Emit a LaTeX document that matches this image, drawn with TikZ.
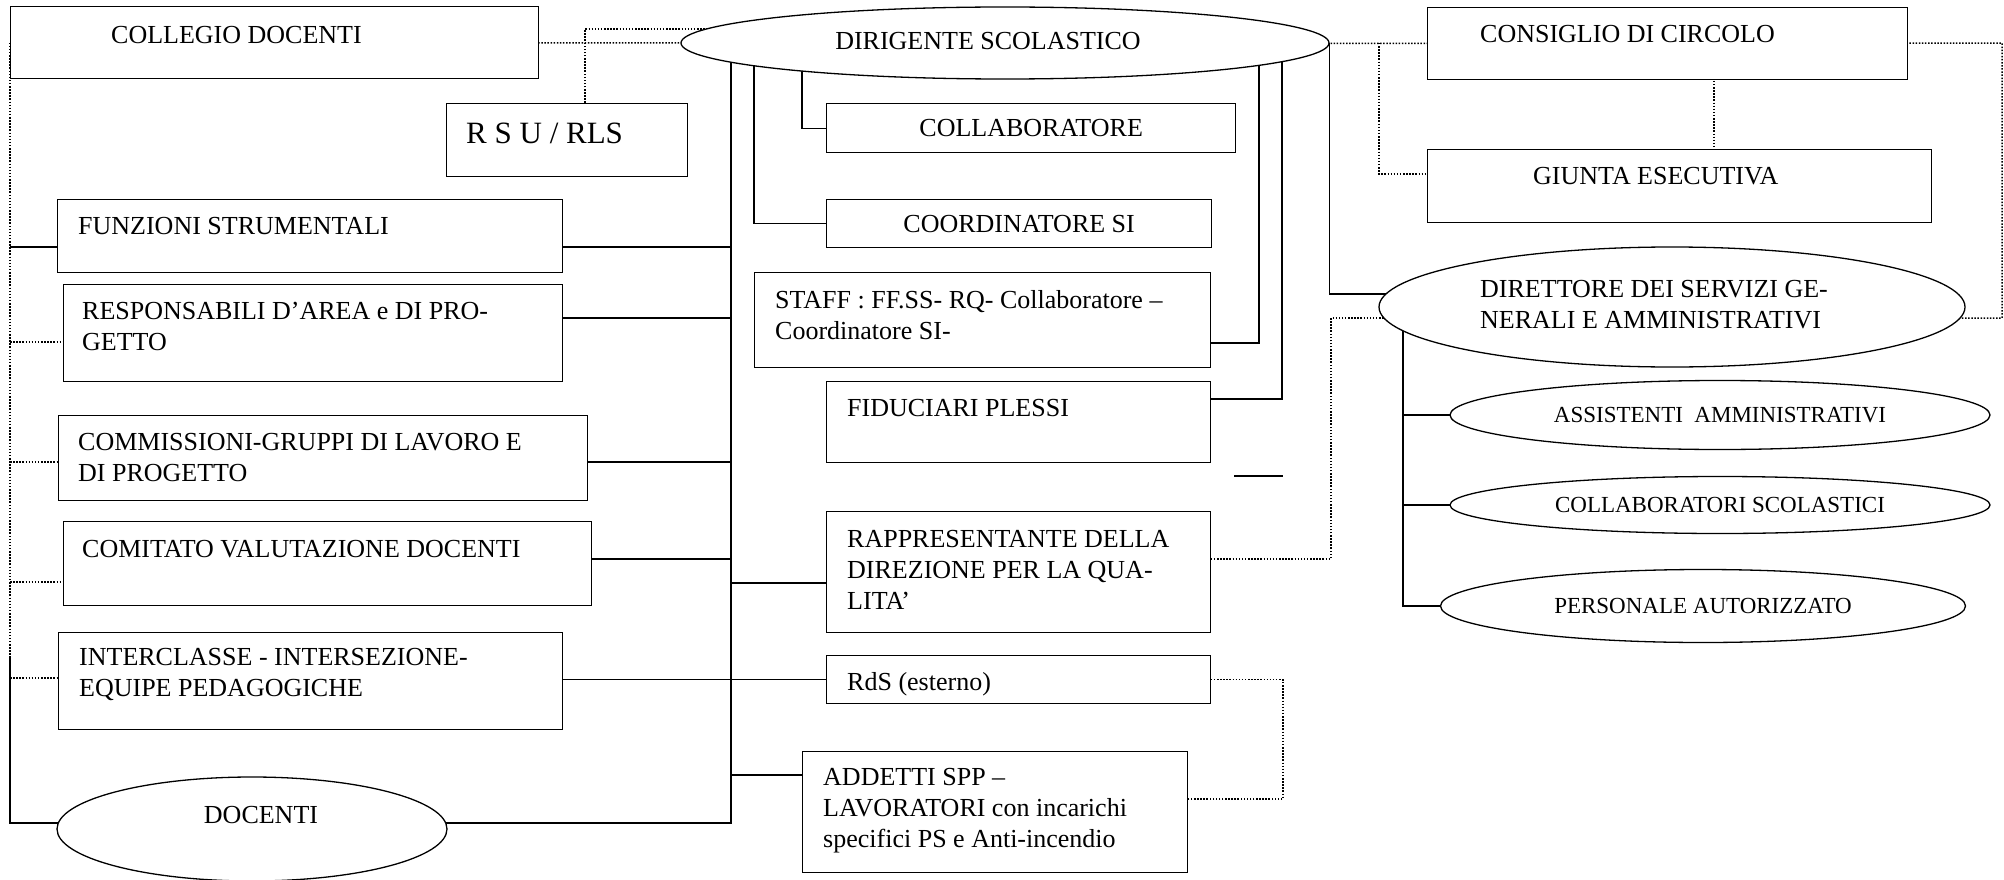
\documentclass[tikz,border=0pt]{standalone}
\usepackage{fontspec}
\setmainfont{Liberation Serif}
\usetikzlibrary{shapes.geometric,positioning,backgrounds}
\newcommand{\orgfont}{\fontsize{26}{31}\selectfont}

\begin{document}
\begin{tikzpicture}[
        x=1pt, y=-1pt,
        box/.style={rectangle, draw, line width=1.3pt, fill=white, anchor=north west, inner sep=0pt},
        midbox/.style={box, font=\orgfont},
        oval/.style={ellipse, draw, line width=1.3pt, fill=white, inner sep=0pt},
        smalloval/.style={oval, font=\fontsize{23}{27}\selectfont},
        txt/.style={font=\orgfont, align=left, inner sep=0pt, anchor=north west},
        link/.style={line width=1.2pt},
        dots/.style={line width=1.5pt, dash pattern=on 1.5pt off 1.6pt}
    ]

        \useasboundingbox (0,0) rectangle (2004,880);

        % Left column
        \node[box, minimum width=528pt, minimum height=72pt] (coll) at (10,6) {};
        \node[box, minimum width=241pt, minimum height=73pt] (rsu) at (446,103) {};
        \node[box, minimum width=505pt, minimum height=73pt] (funz) at (57,199) {};
        \node[box, minimum width=499pt, minimum height=97pt] (resp) at (63,284) {};
        \node[box, minimum width=529pt, minimum height=85pt] (comm) at (58,415) {};
        \node[box, minimum width=528pt, minimum height=84pt] (comi) at (63,521) {};
        \node[box, minimum width=504pt, minimum height=97pt] (inter) at (58,632) {};
        \node[oval, minimum width=390pt, minimum height=104pt] (docenti) at (252,829) {};

        % Dirigente and central column
        \node[oval, minimum width=648pt, minimum height=72pt] (dirig) at (1005,43) {};
        \node[midbox, minimum width=409pt, minimum height=49pt] (collab) at (826,103) {COLLABORATORE};
        \node[midbox, minimum width=385pt, minimum height=48pt] (coord) at (826,199) {COORDINATORE SI};
        \node[box, minimum width=456pt, minimum height=95pt] (staff) at (754,272) {};
        \node[box, minimum width=384pt, minimum height=81pt] (fidu) at (826,381) {};
        \node[box, minimum width=384pt, minimum height=121pt] (rapp) at (826,511) {};
        \node[box, minimum width=384pt, minimum height=48pt] (rds) at (826,655) {};
        \node[box, minimum width=385pt, minimum height=121pt] (addetti) at (802,751) {};

        % Right side
        \node[box, minimum width=480pt, minimum height=72pt] (consi) at (1427,7) {};
        \node[box, minimum width=504pt, minimum height=73pt] (giunta) at (1427,149) {};
        \node[oval, minimum width=586pt, minimum height=120pt] (dir) at (1672,307) {};
        \node[smalloval, minimum width=540pt, minimum height=69pt] (assist) at (1720,415) {ASSISTENTI\ \ AMMINISTRATIVI};
        \node[smalloval, minimum width=540pt, minimum height=57pt] (collsc) at (1720,505) {COLLABORATORI SCOLASTICI};
        \node[smalloval, minimum width=525pt, minimum height=73pt] (pers) at (1703,606) {PERSONALE AUTORIZZATO};

        % Labels
        \node[txt, below right=20pt and 101pt of coll.north west] (collT) {COLLEGIO DOCENTI};
        \node[txt, font=\fontsize{31}{37}\selectfont, below right=20pt and 20pt of rsu.north west] (rsuT) {R S U / RLS};
        \node[txt, below right=18pt and 21pt of funz.north west] (funzT) {FUNZIONI STRUMENTALI};
        \node[txt, below right=18pt and 19pt of resp.north west] (respT) {RESPONSABILI D’AREA e DI PRO-\\GETTO};
        \node[txt, below right=18pt and 20pt of comm.north west] (commT) {COMMISSIONI-GRUPPI DI LAVORO E\\DI PROGETTO};
        \node[txt, below right=19pt and 19pt of comi.north west] (comiT) {COMITATO VALUTAZIONE DOCENTI};
        \node[txt, below right=16pt and 21pt of inter.north west] (interT) {INTERCLASSE - INTERSEZIONE-\\EQUIPE PEDAGOGICHE};
        \node[txt, below right=18pt and 21pt of staff.north west] (staffT) {STAFF : FF.SS- RQ- Collaboratore –\\Coordinatore SI-};
        \node[txt, below right=18pt and 21pt of fidu.north west] (fiduT) {FIDUCIARI PLESSI};
        \node[txt, below right=19pt and 21pt of rapp.north west] (rappT) {RAPPRESENTANTE DELLA\\DIREZIONE PER LA QUA-\\LITA’};
        \node[txt, below right=17pt and 21pt of rds.north west] (rdsT) {RdS (esterno)};
        \node[txt, below right=17pt and 21pt of addetti.north west] (addettiT) {ADDETTI SPP –\\LAVORATORI con incarichi\\specifici PS e Anti-incendio};
        \node[txt, below right=18pt and 53pt of consi.north west] (consiT) {CONSIGLIO DI CIRCOLO};
        \node[txt, below right=18pt and 106pt of giunta.north west] (giuntaT) {GIUNTA ESECUTIVA};
        \node[txt, anchor=center] (dirigT) at (988,41.5) {DIRIGENTE SCOLASTICO};
        \node[txt, anchor=center] (docT) at (261,815) {DOCENTI};
        \node[txt] (dirT) at (1480,280) {DIRETTORE DEI SERVIZI GE-\\NERALI E AMMINISTRATIVI};

        % Connectors, behind the boxes
        \begin{scope}[on background layer]
            \fill[white] (0,0) rectangle (2004,880);
            \coordinate (tr) at (731,823);
            \coordinate (lm) at (10,657);
            \coordinate (lb) at (10,823);
            \coordinate (ru) at (585,29);
            \coordinate (gj) at (1379,43);
            \coordinate (ce) at (2002,43);
            \coordinate (rq) at (1331,318);
            \coordinate (ra) at (1283,799);
            \coordinate (dr) at (1403,0);
            \coordinate (s1) at (1234,476);
            \coordinate (s2) at (1283,476);

            % Solid lines
            \draw[link] (dirig.center -| tr) -- (tr) -- (docenti.center |- tr);
            \draw[link] (lm) -- (lb) -- (docenti.center |- lb);
            \draw[link] (lb |- 0,247) -- (tr |- 0,247);
            \draw[link] (resp.center |- 0,318) -- (tr |- 0,318);
            \draw[link] (comm.center |- 0,462) -- (tr |- 0,462);
            \draw[link] (comi.center |- 0,559) -- (tr |- 0,559);
            \draw[link] (inter.center |- rds.center) -- (rds.center);
            \draw[link] (tr |- 0,583) -- (rapp.center |- 0,583);
            \draw[link] (tr |- 0,775) -- (addetti.center |- 0,775);
            \draw[link] (dirig.center -| 754,0) |- (coord.center);
            \draw[link] (dirig.center -| 802,0) |- (collab.center);
            \draw[link] (dirig.center -| 1259,0) |- (staff.center |- 0,343);
            \draw[link] (dirig.center -| 1282,0) |- (fidu.center |- 0,399);
            \draw[link] (dirig.east) |- (dir.center |- 0,294);
            \draw[link] (dir.center -| dr) |- (pers.center);
            \draw[link] (assist.center -| dr) -- (assist.center);
            \draw[link] (collsc.center -| dr) -- (collsc.center);
            \draw[link] (s1) -- (s2);

            % Dotted lines
            \draw[dots] (coll.center) -- (dirig.center);
            \draw[dots] (rsu.center -| ru) |- (dirig.center |- ru);
            \draw[dots] (coll.center -| lm) -- (lm);
            \draw[dots] (lm |- 0,342) -- (resp.center |- 0,342);
            \draw[dots] (lm |- 0,462) -- (comm.center |- 0,462);
            \draw[dots] (lm |- 0,582) -- (comi.center |- 0,582);
            \draw[dots] (lm |- 0,678) -- (inter.center |- 0,678);
            \draw[dots] (dirig.center) -- (consi.center);
            \draw[dots] (gj) |- (giunta.center |- 0,174);
            \draw[dots] (consi.center -| 1714,0) -- (giunta.center -| 1714,0);
            \draw[dots] (consi.center) -- (ce) |- (dir.center |- rq);
            \draw[dots] (rapp.center |- 0,559) -| (rq) -- (dir.center |- rq);
            \draw[dots] (rds.center) -| (ra) -- (addetti.center |- ra);
        \end{scope}

    \end{tikzpicture}
\end{document}
